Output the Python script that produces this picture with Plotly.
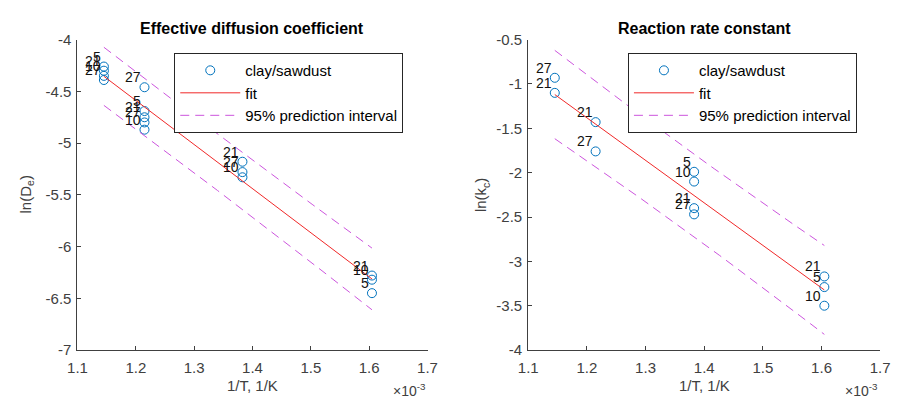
import math
import numpy as np
import plotly.graph_objects as go

# Inverse temperature, 1/T in units of 1e-3 1/K, with sample labels
x_de = [1.1453, 1.1453, 1.1453, 1.1453,
        1.2149, 1.2149, 1.2149, 1.2149, 1.2149,
        1.3828, 1.3828, 1.3828,
        1.6048, 1.6048, 1.6048]
ln_de = [-4.26, -4.30, -4.35, -4.39,
         -4.46, -4.69, -4.75, -4.80, -4.87,
         -5.18, -5.28, -5.33,
         -6.28, -6.32, -6.45]
lab_de = ["5", "21", "10", "27",
          "27", "5", "21", "27", "10",
          "21", "27", "10",
          "21", "10", "5"]

x_kc = [1.1453, 1.1453,
        1.2149, 1.2149,
        1.3828, 1.3828, 1.3828, 1.3828,
        1.6048, 1.6048, 1.6048]
ln_kc = [-0.93, -1.10,
         -1.43, -1.76,
         -1.99, -2.10, -2.40, -2.47,
         -3.17, -3.29, -3.50]
lab_kc = ["27", "21",
          "21", "27",
          "5", "10", "21", "27",
          "21", "5", "10"]

x_ticks = [1.1, 1.2, 1.3, 1.4, 1.5, 1.6, 1.7]
x_ticktext = ["1.1", "1.2", "1.3", "1.4", "1.5", "1.6", "1.7"]
y_ticks_de = [-7, -6.5, -6, -5.5, -5, -4.5, -4]
y_ticktext_de = ["-7", "-6.5", "-6", "-5.5", "-5", "-4.5", "-4"]
y_ticks_kc = [-4, -3.5, -3, -2.5, -2, -1.5, -1, -0.5]
y_ticktext_kc = ["-4", "-3.5", "-3", "-2.5", "-2", "-1.5", "-1", "-0.5"]

W, H = 899, 405
FONT = "Liberation Sans, Arial, sans-serif"
BLUE = "#0072BD"
AXC = "#404040"
RED = "#f02828"
MAG = "#cc55dd"


def t_ppf(p, df):
    """Student t quantile by numerical integration of the density."""
    xs = np.linspace(0.0, 30.0, 300001)
    c = math.gamma((df + 1) / 2) / (math.sqrt(df * math.pi) * math.gamma(df / 2))
    pdf = c * (1 + xs ** 2 / df) ** (-(df + 1) / 2)
    cdf = 0.5 + np.concatenate([[0.0], np.cumsum((pdf[1:] + pdf[:-1]) / 2 * np.diff(xs))])
    return float(np.interp(p, cdf, xs))


def fit_with_pi(x, y, npts=60):
    x = np.asarray(x, float)
    y = np.asarray(y, float)
    n = len(x)
    b, a = np.polyfit(x, y, 1)
    resid = y - (a + b * x)
    s = math.sqrt(np.sum(resid ** 2) / (n - 2))
    sxx = np.sum((x - x.mean()) ** 2)
    xf = np.linspace(x.min(), x.max(), npts)
    yf = a + b * xf
    half = t_ppf(0.975, n - 2) * s * np.sqrt(1 + 1 / n + (xf - x.mean()) ** 2 / sxx)
    return xf, yf, yf - half, yf + half


fig = go.Figure()

# pixel geometry of the two panels
panels = [
    dict(x0=69, x1=427, xa="x", ya="y", leg="legend",
         x=x_de, y=ln_de, lab=lab_de, title="Effective diffusion coefficient",
         ylab="ln(D<sub>e</sub>)", ylab_x=17),
    dict(x0=530, x1=890, xa="x2", ya="y2", leg="legend2",
         x=x_kc, y=ln_kc, lab=lab_kc, title="Reaction rate constant",
         ylab="ln(k<sub>c</sub>)", ylab_x=483),
]
y_top, y_bot = 32, 356

for p in panels:
    xf, yf, lo, hi = fit_with_pi(p["x"], p["y"])
    fig.add_trace(go.Scatter(
        x=p["x"], y=p["y"], mode="markers", name="clay/sawdust",
        marker=dict(symbol="circle-open", size=9, color=BLUE, line=dict(width=1, color=BLUE)),
        xaxis=p["xa"], yaxis=p["ya"], legend=p["leg"]))
    fig.add_trace(go.Scatter(
        x=xf, y=yf, mode="lines", name="fit",
        line=dict(color=RED, width=1),
        xaxis=p["xa"], yaxis=p["ya"], legend=p["leg"]))
    fig.add_trace(go.Scatter(
        x=xf, y=hi, mode="lines", name="95% prediction interval",
        line=dict(color=MAG, width=1, dash="9px,6px"),
        xaxis=p["xa"], yaxis=p["ya"], legend=p["leg"]))
    fig.add_trace(go.Scatter(
        x=xf, y=lo, mode="lines", showlegend=False,
        line=dict(color=MAG, width=1, dash="9px,6px"),
        xaxis=p["xa"], yaxis=p["ya"], legend=p["leg"]))
    # sample labels at the upper left of each point
    for xv, yv, t in zip(p["x"], p["y"], p["lab"]):
        fig.add_annotation(x=xv, y=yv, xref=p["xa"], yref=p["ya"], text=t,
                           showarrow=False, xanchor="right", yanchor="bottom",
                           xshift=-1, yshift=0,
                           font=dict(family=FONT, size=14, color="#111111"))
    cx = (p["x0"] + p["x1"]) / 2 / W
    fig.add_annotation(x=cx, y=1 - 20 / H, xref="paper", yref="paper",
                       text="<b>" + p["title"] + "</b>", showarrow=False,
                       xanchor="center", yanchor="middle",
                       font=dict(family=FONT, size=16, color="black"))
    fig.add_annotation(x=cx, y=1 - 393 / H, xref="paper", yref="paper",
                       text="1/T, 1/K", showarrow=False,
                       xanchor="center", yanchor="middle",
                       font=dict(family=FONT, size=15, color=AXC))
    fig.add_annotation(x=p["x1"] / W, y=1 - 398 / H, xref="paper", yref="paper",
                       text="×10<sup>-3</sup>", showarrow=False,
                       xanchor="right", yanchor="middle",
                       font=dict(family=FONT, size=14, color=AXC))
    fig.add_annotation(x=p["ylab_x"] / W, y=1 - (y_top + y_bot) / 2 / H,
                       xref="paper", yref="paper",
                       text=p["ylab"], showarrow=False, textangle=-90,
                       xanchor="center", yanchor="middle",
                       font=dict(family=FONT, size=15, color=AXC))

axis_common = dict(showgrid=False, zeroline=False, showline=True, linecolor=AXC,
                   linewidth=1, ticks="inside", ticklen=4, tickcolor=AXC,
                   tickfont=dict(family=FONT, size=15, color=AXC), mirror=False)
ydom = [1 - y_bot / H, 1 - y_top / H]

legend_common = dict(xanchor="left", yanchor="top", bgcolor="white",
                     bordercolor="#262626", borderwidth=1,
                     font=dict(family=FONT, size=15, color="black"),
                     itemwidth=60, tracegroupgap=0)

fig.update_layout(
    width=W, height=H, margin=dict(l=0, r=0, t=0, b=0),
    paper_bgcolor="white", plot_bgcolor="white",
    xaxis=dict(domain=[69 / W, 427 / W], range=[1.1, 1.7], tickvals=x_ticks,
               ticktext=x_ticktext, anchor="y", ticklabelstandoff=4, **axis_common),
    yaxis=dict(domain=ydom, range=[-7, -4], tickvals=y_ticks_de,
               ticktext=y_ticktext_de, anchor="x", ticklabelstandoff=2, **axis_common),
    xaxis2=dict(domain=[530 / W, 890 / W], range=[1.1, 1.7], tickvals=x_ticks,
                ticktext=x_ticktext, anchor="y2", ticklabelstandoff=4, **axis_common),
    yaxis2=dict(domain=ydom, range=[-4, -0.5], tickvals=y_ticks_kc,
                ticktext=y_ticktext_kc, anchor="x2", ticklabelstandoff=2, **axis_common),
    legend=dict(x=168 / W, y=1 - 46 / H, **legend_common),
    legend2=dict(x=632 / W, y=1 - 46 / H, **legend_common),
    showlegend=True,
)

fig.write_html("out.html")
